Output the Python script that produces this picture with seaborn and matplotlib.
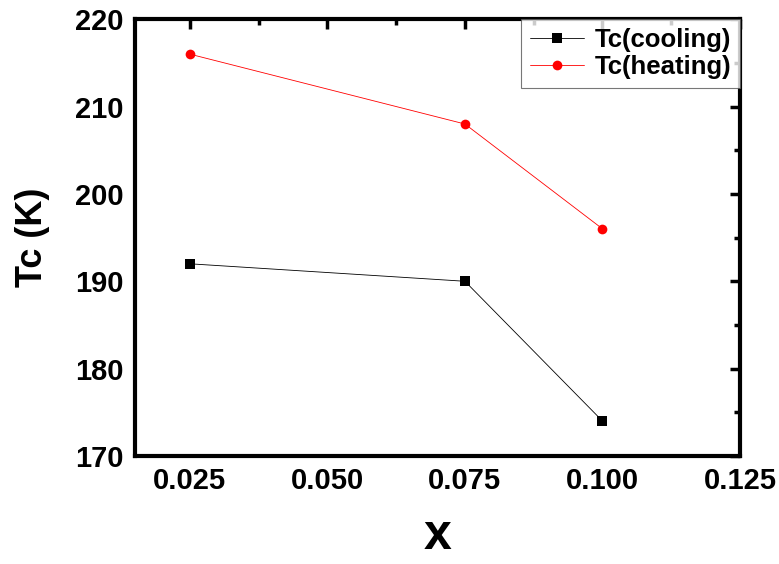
import matplotlib
matplotlib.use("Agg")
import matplotlib.pyplot as plt
from matplotlib.ticker import MultipleLocator, FormatStrFormatter
import seaborn as sns
import pandas as pd

x_values = [0.025, 0.075, 0.100]
tc_cooling = [192, 190, 174]
tc_heating = [216, 208, 196]
series_names = ["Tc(cooling)", "Tc(heating)"]

sns.set_theme(style="white")
plt.rcParams["font.family"] = ["Liberation Sans", "DejaVu Sans"]
plt.rcParams["font.weight"] = "bold"
plt.rcParams["text.color"] = "black"
plt.rcParams["axes.labelcolor"] = "black"
plt.rcParams["xtick.color"] = "black"
plt.rcParams["ytick.color"] = "black"

df = pd.DataFrame({
    "x": x_values * 2,
    "Tc": tc_cooling + tc_heating,
    "series": [series_names[0]] * 3 + [series_names[1]] * 3,
})

fig = plt.figure(figsize=(7.79, 5.64), dpi=100)
ax = fig.add_axes([0.173, 0.1915, 0.777, 0.7745])

sns.lineplot(
    data=df, x="x", y="Tc", hue="series", style="series",
    palette={series_names[0]: "black", series_names[1]: "red"},
    markers={series_names[0]: "s", series_names[1]: "o"},
    dashes=False, linewidth=0.6, markersize=7, markeredgewidth=0,
    ax=ax,
)

ax.set_xlim(0.015, 0.125)
ax.set_ylim(170, 220)
ax.xaxis.set_major_locator(MultipleLocator(0.025))
ax.xaxis.set_minor_locator(MultipleLocator(0.0125))
ax.yaxis.set_major_locator(MultipleLocator(10))
ax.yaxis.set_minor_locator(MultipleLocator(5))
ax.xaxis.set_major_formatter(FormatStrFormatter("%.3f"))

for s in ax.spines.values():
    s.set_linewidth(3)
    s.set_color("black")

ax.tick_params(which="both", direction="in", top=True, right=True,
               color="black", labelcolor="black")
ax.tick_params(which="major", length=7, width=2.5, labelsize=21, pad=8)
ax.tick_params(which="minor", length=4, width=2.5)
for lbl in ax.get_xticklabels() + ax.get_yticklabels():
    lbl.set_fontweight("bold")

ax.set_xlabel("x", fontsize=36, fontweight="bold", labelpad=13, color="black")
ax.set_ylabel("Tc (K)", fontsize=26, fontweight="bold", labelpad=18, color="black")

leg = ax.legend(loc="upper right", borderaxespad=0, fontsize=18.5, frameon=True,
                fancybox=False, handlelength=2.1, handletextpad=0.42,
                borderpad=0.35, labelspacing=0.1)
leg.get_frame().set_edgecolor("#555555")
leg.get_frame().set_linewidth(0.8)
for t in leg.get_texts():
    t.set_fontweight("bold")
    t.set_color("black")

fig.savefig("out.png", dpi=100)
